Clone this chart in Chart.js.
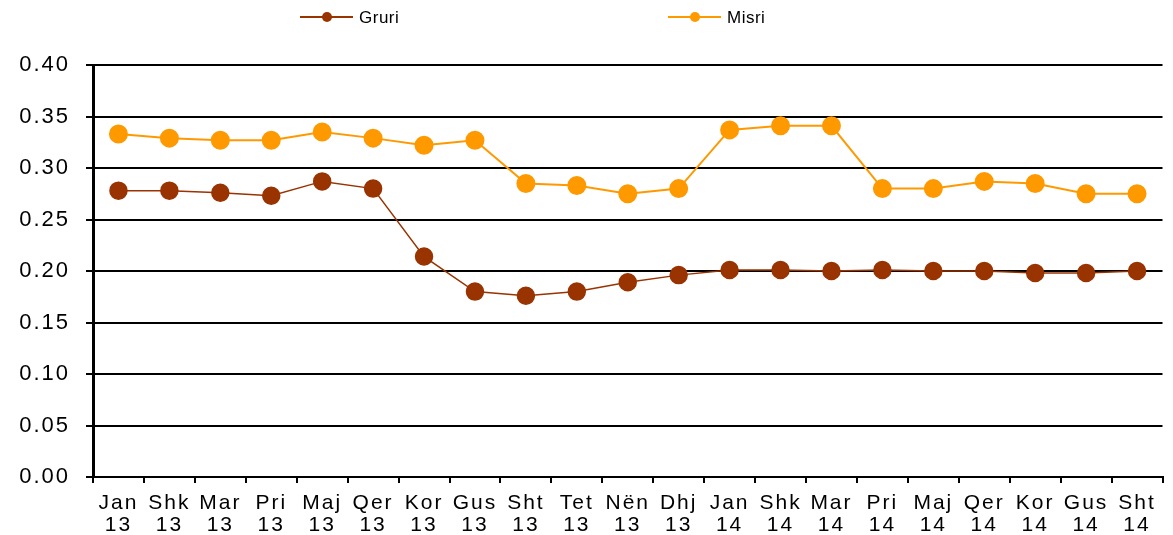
<!DOCTYPE html>
<html>
<head>
<meta charset="utf-8">
<script src="https://cdn.jsdelivr.net/npm/chart.js@4/dist/chart.umd.min.js"></script>
<style>
  html, body { margin: 0; padding: 0; background: #fff; }
  #wrap { width: 1173px; height: 535px; position: relative; }
</style>
</head>
<body>
<div id="wrap"><canvas id="chart"></canvas></div>
<script>
// muajt (etiketa me dy rreshta)
const months = ['Jan', 'Shk', 'Mar', 'Pri', 'Maj', 'Qer', 'Kor', 'Gus', 'Sht', 'Tet', 'Nën', 'Dhj',
                'Jan', 'Shk', 'Mar', 'Pri', 'Maj', 'Qer', 'Kor', 'Gus', 'Sht'];
const years = ['13', '13', '13', '13', '13', '13', '13', '13', '13', '13', '13', '13',
               '14', '14', '14', '14', '14', '14', '14', '14', '14'];

const gruri = [0.278, 0.278, 0.276, 0.273, 0.287, 0.280, 0.214, 0.180, 0.176, 0.180, 0.189, 0.196,
               0.201, 0.201, 0.200, 0.201, 0.200, 0.200, 0.198, 0.198, 0.200];
const misri = [0.333, 0.329, 0.327, 0.327, 0.335, 0.329, 0.322, 0.327, 0.285, 0.283, 0.275, 0.280,
               0.337, 0.341, 0.341, 0.280, 0.280, 0.287, 0.285, 0.275, 0.275];

const yTicks = [0, 0.05, 0.10, 0.15, 0.20, 0.25, 0.30, 0.35, 0.40];

const BROWN = '#993300';
const ORANGE = '#FF9900';
const FONT = '"Liberation Sans", Arial, Helvetica, sans-serif';

// tekst pak me i gjere, si ne origjinal
const spacingPlugin = {
  id: 'spacing',
  beforeUpdate(chart) { chart.ctx.letterSpacing = '2px'; },
  beforeDraw(chart) { chart.ctx.letterSpacing = '2px'; }
};

// legjenda: vije + pike + tekst
const legendPlugin = {
  id: 'lineLegend',
  afterDraw(chart) {
    const ctx = chart.ctx;
    const items = [
      { label: 'Gruri', color: BROWN, x: 300 },
      { label: 'Misri', color: ORANGE, x: 668 }
    ];
    const y = 17;
    ctx.save();
    ctx.letterSpacing = '0.5px';
    items.forEach(it => {
      ctx.strokeStyle = it.color;
      ctx.lineWidth = 2;
      ctx.beginPath();
      ctx.moveTo(it.x, y);
      ctx.lineTo(it.x + 53, y);
      ctx.stroke();
      ctx.fillStyle = it.color;
      ctx.beginPath();
      ctx.arc(it.x + 27, y, 5, 0, Math.PI * 2);
      ctx.fill();
      ctx.fillStyle = '#000';
      ctx.font = '17px ' + FONT;
      ctx.textBaseline = 'middle';
      ctx.textAlign = 'left';
      ctx.fillText(it.label, it.x + 59, y + 1);
    });
    ctx.restore();
  }
};

const ctx = document.getElementById('chart').getContext('2d');
new Chart(ctx, {
  type: 'line',
  data: {
    labels: months.map((m, i) => [m, years[i]]),
    datasets: [
      {
        label: 'Gruri',
        data: gruri,
        borderColor: BROWN,
        backgroundColor: BROWN,
        pointBackgroundColor: BROWN,
        pointBorderColor: BROWN,
        borderWidth: 1.5,
        pointRadius: 8.5,
        pointHoverRadius: 8.5,
        tension: 0
      },
      {
        label: 'Misri',
        data: misri,
        borderColor: ORANGE,
        backgroundColor: ORANGE,
        pointBackgroundColor: ORANGE,
        pointBorderColor: ORANGE,
        borderWidth: 2,
        pointRadius: 8.5,
        pointHoverRadius: 8.5,
        tension: 0
      }
    ]
  },
  options: {
    responsive: true,
    maintainAspectRatio: false,
    animation: false,
    layout: { padding: { top: 65, right: 4, left: 0, bottom: 0 } },
    plugins: {
      legend: { display: false },
      tooltip: { enabled: false }
    },
    scales: {
      x: {
        offset: true,
        grid: {
          offset: true,
          drawOnChartArea: false,
          drawTicks: true,
          tickLength: 6,
          color: '#000',
          lineWidth: 2
        },
        border: { color: '#000', width: 2 },
        ticks: {
          autoSkip: false,
          maxRotation: 0,
          minRotation: 0,
          padding: 9,
          color: '#000',
          font: { family: FONT, size: 21, lineHeight: 1.05 }
        },
        afterFit(scale) { scale.height = 58; }
      },
      y: {
        min: 0,
        max: 0.4,
        afterBuildTicks(scale) { scale.ticks = yTicks.map(v => ({ value: v })); },
        grid: {
          color: '#000',
          lineWidth: 2,
          drawTicks: true,
          tickLength: 7
        },
        border: { color: '#000', width: 3 },
        ticks: {
          padding: 16,
          color: '#000',
          font: { family: FONT, size: 22 },
          callback: v => v.toFixed(2)
        },
        afterFit(scale) { scale.width = 93; }
      }
    }
  },
  plugins: [spacingPlugin, legendPlugin]
});
</script>
</body>
</html>
